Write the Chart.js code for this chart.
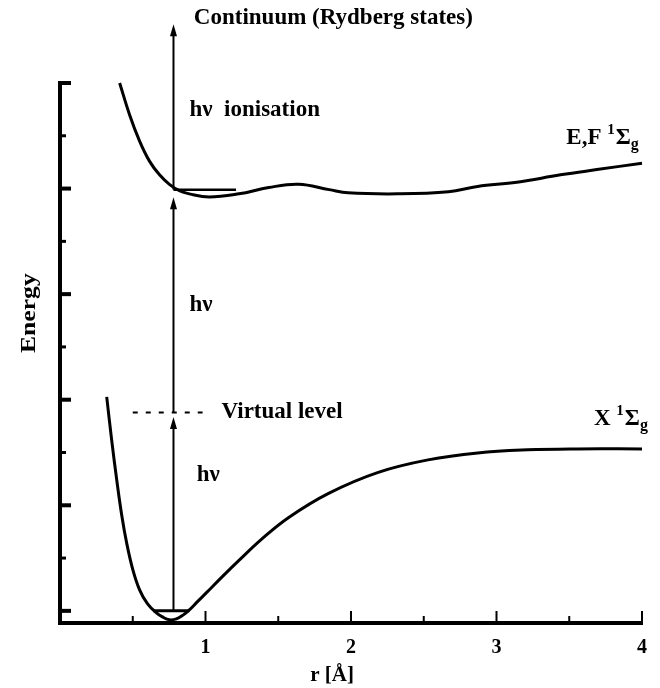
<!DOCTYPE html>
<html>
<head>
<meta charset="utf-8">
<title>H2 potential curves</title>
<script src="https://cdn.jsdelivr.net/npm/chart.js@4.4.1/dist/chart.umd.min.js"></script>
<style>
    html, body { margin: 0; padding: 0; background: #fff; }
    #wrap { width: 660px; height: 688px; }
</style>
</head>
<body>
<div id="wrap"><canvas id="myChart" width="660" height="688"></canvas></div>
<script>
// ground state X 1Σg
var groundR = [0.321, 0.355, 0.39, 0.424, 0.458, 0.499, 0.547, 0.602, 0.663, 0.704, 0.752, 0.80, 0.848, 0.889, 0.943, 1.005,
               1.114, 1.23, 1.388, 1.572, 1.846, 2.187, 2.529, 2.871, 3.213, 3.554, 4.0];
var groundE = [2.027, 1.619, 1.24, 0.909, 0.644, 0.398, 0.199, 0.066, -0.019, -0.057, -0.085, -0.076, -0.038, 0.009, 0.085, 0.17,
               0.322, 0.478, 0.682, 0.885, 1.113, 1.312, 1.43, 1.496, 1.525, 1.534, 1.534];

// excited state E,F 1Σg (double well)
var efR = [0.41, 0.478, 0.547, 0.615, 0.684, 0.752, 0.82, 0.889, 1.025, 1.23, 1.435, 1.64, 1.85, 1.98, 2.32, 2.67, 2.87, 3.14, 3.44, 3.69, 4.0];
var efE = [5.0, 4.70, 4.45, 4.26, 4.13, 4.04, 3.98, 3.95, 3.92, 3.95, 4.01, 4.04, 3.99, 3.96, 3.95, 3.97, 4.02, 4.06, 4.13, 4.18, 4.24];

// vibrational levels and the virtual level
var groundLevelR = [0.64, 0.89];
var groundLevelE = 0;
var efLevelR = [0.78, 1.21];
var efLevelE = 3.99;
var virtualR = [0.50, 0.98];
var virtualE = 1.88;

// photon arrows (all at the same r)
var arrowR = 0.78;
var arrowFrom = [0, 1.88, 3.99];
var arrowTo = [1.84, 3.92, 5.56];

// axis ticks
var xTickValues = [0.5, 1, 1.5, 2, 2.5, 3, 3.5, 4];
var yTickValues = [0, 0.5, 1, 1.5, 2, 2.5, 3, 3.5, 4, 4.5, 5];

document.addEventListener('DOMContentLoaded', function() {
    var ctx = document.getElementById('myChart').getContext('2d');
    var serif = '"Liberation Serif", "Times New Roman", serif';

    function pts(xs, ys) {
        return xs.map(function(x, i) { return {x: x, y: Array.isArray(ys) ? ys[i] : ys}; });
    }

    var datasets = [
        {data: pts(groundR, groundE), borderWidth: 3, tension: 0.4},
        {data: pts(efR, efE), borderWidth: 3, tension: 0.4},
        {data: pts(groundLevelR, groundLevelE), borderWidth: 3},
        {data: pts(efLevelR, efLevelE), borderWidth: 2.5},
        {data: pts(virtualR, virtualE), borderWidth: 2, borderDash: [5, 8]}
    ];
    arrowFrom.forEach(function(e0, i) {
        datasets.push({data: pts([arrowR, arrowR], [e0, arrowTo[i] - 0.06]), borderWidth: 2, arrow: true});
    });
    datasets.forEach(function(d) {
        d.borderColor = '#000';
        d.showLine = true;
        d.pointRadius = 0;
        d.clip = false;
    });

    // text drawn next to the curves, in data coordinates
    var notes = [
        {text: 'Continuum (Rydberg states)', r: 0.92, e: 5.616},
        {text: 'hν  ionisation', r: 0.89, e: 4.744},
        {text: 'hν', r: 0.89, e: 2.90},
        {text: 'hν', r: 0.94, e: 1.29},
        {text: 'Virtual level', r: 1.11, e: 1.884}
    ];

    function put(c, str, x, y, size, sx) {
        c.save();
        c.translate(x, y);
        c.scale(sx || 1, 1);
        c.font = 'bold ' + size + 'px ' + serif;
        c.fillText(str, 0, 0);
        var w = c.measureText(str).width * (sx || 1);
        c.restore();
        return w;
    }

    function termSymbol(c, head, x, y) {
        var w = put(c, head, x, y, 23);
        w += put(c, '1', x + w, y - 8, 15);
        w += 1;
        w += put(c, 'Σ', x + w, y, 23);
        put(c, 'g', x + w, y + 7, 16);
    }

    var decor = {
        id: 'decor',
        afterDraw: function(chart) {
            var c = chart.ctx;
            var xs = chart.scales.x, ys = chart.scales.y;
            var area = chart.chartArea;
            c.save();
            c.fillStyle = '#000';
            c.strokeStyle = '#000';

            // inward tick marks
            xTickValues.forEach(function(v) {
                var px = xs.getPixelForValue(v);
                var major = Number.isInteger(v);
                c.lineWidth = 2;
                c.beginPath();
                c.moveTo(px, area.bottom);
                c.lineTo(px, area.bottom - (major ? 12 : 7));
                c.stroke();
            });
            yTickValues.forEach(function(v) {
                var py = ys.getPixelForValue(v);
                var major = Number.isInteger(v);
                c.fillRect(area.left, py - (major ? 2 : 1.5), major ? 11 : 6, major ? 4 : 3);
            });

            // arrow heads
            chart.data.datasets.forEach(function(d) {
                if (!d.arrow) return;
                var tip = d.data[1];
                var px = xs.getPixelForValue(tip.x);
                var py = ys.getPixelForValue(tip.y) - 6;
                c.beginPath();
                c.moveTo(px, py);
                c.lineTo(px - 3.5, py + 12);
                c.lineTo(px + 3.5, py + 12);
                c.closePath();
                c.fill();
            });

            c.textBaseline = 'middle';
            c.textAlign = 'left';
            notes.forEach(function(n) {
                put(c, n.text, xs.getPixelForValue(n.r), ys.getPixelForValue(n.e), 23);
            });
            termSymbol(c, 'E,F ', xs.getPixelForValue(3.48), ys.getPixelForValue(4.48));
            termSymbol(c, 'X ', xs.getPixelForValue(3.67), ys.getPixelForValue(1.82));

            // axis titles
            c.textAlign = 'center';
            put(c, 'r [Å]', xs.getPixelForValue(1.87), area.bottom + 53, 21);
            c.save();
            c.translate(30, ys.getPixelForValue(2.82));
            c.rotate(-Math.PI / 2);
            put(c, 'Energy', 0, 0, 21, 1.22);
            c.restore();
            c.restore();
        }
    };

    var myChart = new Chart(ctx, {
        type: 'scatter',
        data: {datasets: datasets},
        options: {
            responsive: false,
            animation: false,
            events: [],
            layout: {padding: {left: 60, right: 14, top: 83, bottom: 0}},
            plugins: {legend: {display: false}, tooltip: {enabled: false}},
            scales: {
                x: {
                    type: 'linear', min: 0, max: 4,
                    afterBuildTicks: function(s) { s.ticks = xTickValues.map(function(v) { return {value: v}; }); },
                    afterFit: function(s) { s.height = 65; },
                    ticks: {
                        color: '#000', padding: 13,
                        font: {family: serif, size: 20, weight: 'bold'},
                        callback: function(v) { return Number.isInteger(v) ? String(v) : ''; }
                    },
                    grid: {drawOnChartArea: false, drawTicks: false, color: '#000', lineWidth: 2},
                    border: {color: '#000', width: 4}
                },
                y: {
                    type: 'linear', min: -0.115, max: 5,
                    afterFit: function(s) { s.width = 0; },
                    ticks: {display: false},
                    grid: {drawOnChartArea: false, drawTicks: false, color: '#000', lineWidth: 2},
                    border: {color: '#000', width: 4}
                }
            }
        },
        plugins: [decor]
    });
});
</script>
</body>
</html>
